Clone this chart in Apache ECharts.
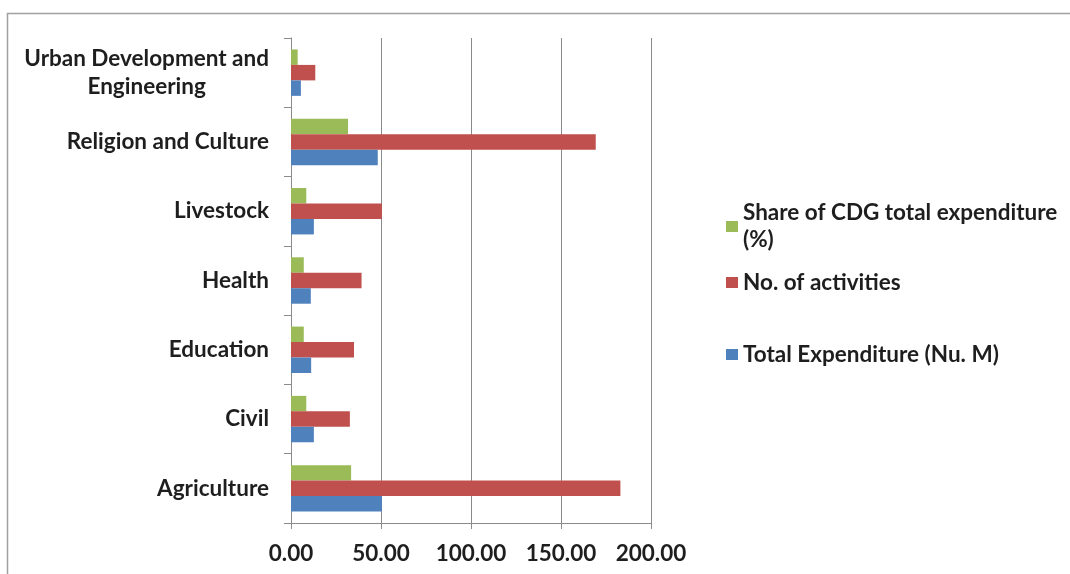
<!DOCTYPE html>
<html>
<head>
<meta charset="utf-8">
<script src="https://cdn.jsdelivr.net/npm/echarts@6/dist/echarts.min.js"></script>
<style>
  html, body { margin: 0; padding: 0; background: #ffffff; }
  #chart { width: 1070px; height: 574px; }
</style>
</head>
<body>
<div id="chart"></div>
<script>
// Sector categories (bottom to top on the vertical axis)
const categories = [
  'Agriculture',
  'Civil',
  'Education',
  'Health',
  'Livestock',
  'Religion and Culture',
  'Urban Development and\nEngineering'
];

// Series values, same order as categories
const shareOfTotal = [33.4, 8.5, 7.1, 7.1, 8.5, 31.7, 3.7];        // Share of CDG total expenditure (%)
const activities   = [183, 32.7, 35, 39.2, 50.5, 169.3, 13.5];       // No. of activities
const expenditure  = [50.5, 12.7, 11.2, 11.0, 12.7, 48.2, 5.5];      // Total Expenditure (Nu. M)

// Value axis ticks
const valueTicks = [0, 50, 100, 150, 200];

const seriesNames = [
  'Share of CDG total expenditure (%)',
  'No. of activities',
  'Total Expenditure (Nu. M)'
];
const colors = ['#9BBB59', '#C0504D', '#4F81BD'];

const FONT = 'Lato, "Open Sans", sans-serif';
const labelStyle = { fontFamily: FONT, fontWeight: 'bold', fontSize: 22.5, color: '#1e1e1e' };

const chart = echarts.init(document.getElementById('chart'), null, { renderer: 'canvas' });

function makeLegend(name, top, text, padTop) {
  return {
    data: [name],
    left: 726,
    top: top,
    orient: 'vertical',
    itemWidth: 12,
    itemHeight: 11,
    itemGap: 0,
    padding: 0,
    icon: 'rect',
    selectedMode: false,
    formatter: () => text,
    textStyle: Object.assign({}, labelStyle, {
      lineHeight: 27,
      padding: [padTop, 0, 0, 0]
    })
  };
}

chart.setOption({
  animation: false,
  backgroundColor: '#ffffff',
  graphic: [{
    type: 'rect',
    shape: { x: 7.5, y: 13.5, width: 1100, height: 600 },
    style: { fill: 'none', stroke: '#a0a0a0', lineWidth: 1.5 },
    silent: true,
    z: -10
  }],
  legend: [
    makeLegend(seriesNames[0], 186, 'Share of CDG total expenditure\n(%)', 27),
    makeLegend(seriesNames[1], 269, 'No. of activities', 0),
    makeLegend(seriesNames[2], 341, 'Total Expenditure (Nu. M)', 0)
  ],
  grid: {
    left: 291,
    top: 38,
    width: 360,
    bottom: 51,
    containLabel: false
  },
  xAxis: {
    type: 'value',
    min: valueTicks[0],
    max: valueTicks[valueTicks.length - 1],
    interval: valueTicks[1] - valueTicks[0],
    axisLine: { show: true, lineStyle: { color: '#8a8a8a', width: 1 } },
    axisTick: { show: true, length: 6, lineStyle: { color: '#8a8a8a' } },
    splitLine: { show: true, lineStyle: { color: '#8a8a8a', width: 1 } },
    axisLabel: Object.assign({}, labelStyle, {
      margin: 19,
      formatter: v => v.toFixed(2)
    })
  },
  yAxis: {
    type: 'category',
    data: categories,
    axisLine: { show: true, lineStyle: { color: '#8a8a8a', width: 1 } },
    axisTick: { show: true, length: 7, lineStyle: { color: '#8a8a8a' } },
    splitLine: { show: false },
    axisLabel: {
      margin: 22,
      formatter: v => '{c|' + v + '}',
      rich: {
        c: Object.assign({}, labelStyle, { align: 'center', lineHeight: 28 })
      }
    }
  },
  series: [0, 1, 2].map(i => ({
    name: seriesNames[i],
    type: 'bar',
    data: [shareOfTotal, activities, expenditure][i],
    itemStyle: { color: colors[i] },
    barGap: '0%',
    barCategoryGap: '33%'
  }))
});
</script>
</body>
</html>
